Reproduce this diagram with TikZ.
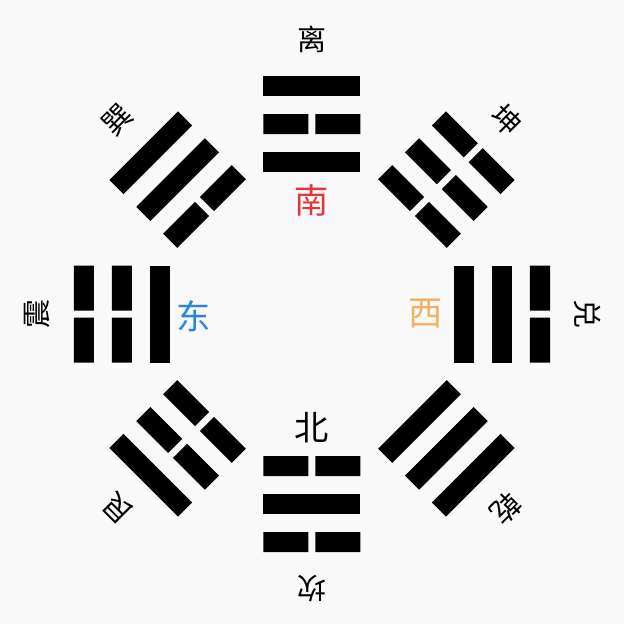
\documentclass[tikz,border=0pt]{standalone}
\usepackage{fontspec}
\newfontfamily\cjk{Noto Sans CJK SC}
\definecolor{nanred}{RGB}{225,55,60}
\definecolor{dongblue}{RGB}{40,135,220}
\definecolor{xiorange}{RGB}{245,175,100}
\definecolor{bg}{RGB}{249,249,249}

\begin{document}
\begin{tikzpicture}[x=0.4mm,y=0.4mm,
    guaname/.style={font=\cjk\fontsize{33}{33}\selectfont},
    fangwei/.style={font=\cjk\fontsize{39}{39}\selectfont}]
    \fill[bg] (-312,-310) rectangle (312,314);
    % eight trigrams, lines from inner to outer
    \foreach \ang/\ya/\yb/\yc/\nm/\id in {90/1/0/1/离/li, 45/0/0/0/坤/kun, 0/1/1/0/兑/dui,
        -45/1/1/1/乾/qian, -90/0/1/0/坎/kan, -135/0/0/1/艮/gen, 180/1/0/0/震/zhen, 135/0/1/1/巽/xun}{
        \begin{scope}[rotate=\ang-90]
            \foreach \yy [count=\k] in {\ya,\yb,\yc}{
                \pgfmathsetmacro\yl{152+(\k-1)*38}
                \ifnum\yy=1
                    \fill (-48.5,\yl-10) rectangle (48.5,\yl+10);
                \else
                    \fill (-48.5,\yl-10) rectangle (-3.5,\yl+10)
                          (3.5,\yl-10) rectangle (48.5,\yl+10);
                \fi
            }
        \end{scope}
        \node[guaname, rotate=\ang-90] (gua-\id) at (\ang:275) {\nm};
    }
    \node[fangwei, text=nanred] (nan) at (0,114) {南};
    \node[fangwei] (bei) at (0,-114) {北};
    \node[fangwei, text=dongblue] (dong) at (-118,-2) {东};
    \node[fangwei, text=xiorange] (xi) at (114,0) {西};
\end{tikzpicture}
\end{document}
